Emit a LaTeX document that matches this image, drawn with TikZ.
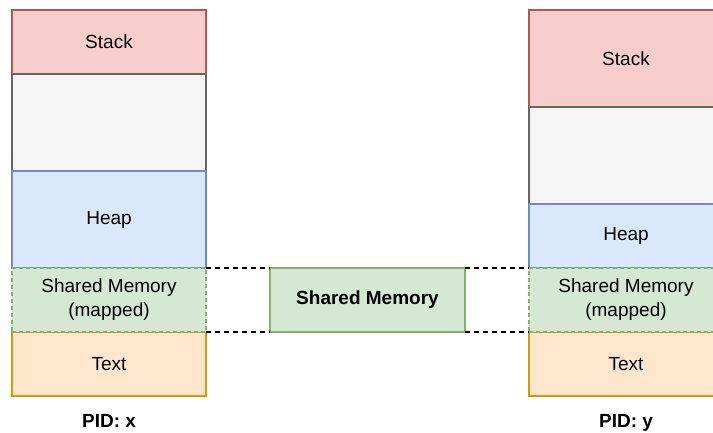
\documentclass[tikz,border=0pt]{standalone}
\usepackage{fontspec}
\setmainfont{Liberation Sans}
\usetikzlibrary{positioning}
\definecolor{stackfill}{HTML}{F8CECC}
\definecolor{stackline}{HTML}{B85450}
\definecolor{freefill}{HTML}{F5F5F5}
\definecolor{freeline}{HTML}{666666}
\definecolor{heapfill}{HTML}{DAE8FC}
\definecolor{heapline}{HTML}{6C8EBF}
\definecolor{shmfill}{HTML}{D5E8D4}
\definecolor{shmline}{HTML}{82B366}
\definecolor{textfill}{HTML}{FFE6CC}
\definecolor{textline}{HTML}{D79B00}
\tikzset{
node distance=0pt, % segments sit directly on top of each other
seg/.style={rectangle, draw, line width=1.2pt, outer sep=0pt, inner sep=0pt,
  minimum width=194pt, align=center, font=\fontsize{19}{24}\selectfont}, % one memory segment
stackseg/.style={seg, fill=stackfill, draw=stackline},
freeseg/.style={seg, fill=freefill, draw=freeline},
heapseg/.style={seg, fill=heapfill, draw=heapline},
shmseg/.style={seg, fill=shmfill, draw=shmline, dash pattern=on 4pt off 3pt},
textseg/.style={seg, fill=textfill, draw=textline},
link/.style={draw=black, line width=1.2pt, dash pattern=on 5pt off 4pt}, % mapping lines
pid/.style={anchor=base, font=\fontsize{19}{24}\selectfont\bfseries},
}
\begin{document}
\begin{tikzpicture}[x=1pt, y=-1pt]
\useasboundingbox (0,0) rectangle (713,432);

% process x
\node[stackseg, minimum height=64pt, anchor=north west] (stackx) at (12,10) {Stack};
\node[freeseg, minimum height=97pt, below=of stackx] (freex) {};
\node[heapseg, minimum height=97pt, below=of freex] (heapx) {Heap};
\node[textseg, minimum height=64pt, below=64pt of heapx] (textx) {Text};
\node[shmseg, minimum height=64pt, below=of heapx] (shmx) {Shared Memory\\(mapped)};
\node[pid] (pidx) at (109,427) {PID: x};

% process y
\node[stackseg, minimum height=97pt, anchor=north west] (stacky) at (529,10) {Stack};
\node[freeseg, minimum height=97pt, below=of stacky] (freey) {};
\node[heapseg, minimum height=64pt, below=of freey] (heapy) {Heap};
\node[textseg, minimum height=64pt, below=64pt of heapy] (texty) {Text};
\node[shmseg, minimum height=64pt, below=of heapy] (shmy) {Shared Memory\\(mapped)};
\node[pid] (pidy) at (626,427) {PID: y};

% the shared region itself
\node[seg, fill=shmfill, draw=shmline, minimum width=195pt, minimum height=64pt,
  anchor=north west, font=\fontsize{19}{24}\selectfont\bfseries] (shm) at (270,268) {Shared Memory};

\draw[link] (shmx.north east) -- (shm.north west)
            (shm.north east) -- (shmy.north west);
\draw[link] (shmx.south east) -- (shm.south west)
            (shm.south east) -- (shmy.south west);
\end{tikzpicture}
\end{document}
